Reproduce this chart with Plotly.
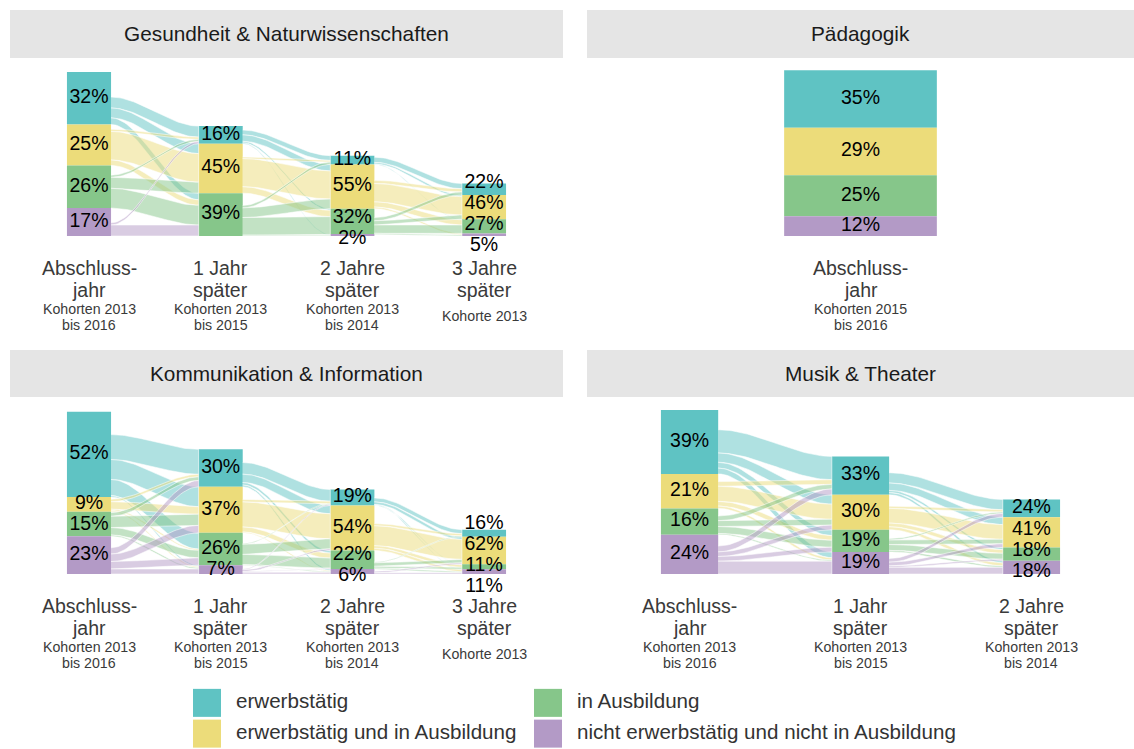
import plotly.graph_objects as go

W, H = 1134, 749
FONT = "Liberation Sans, Arial, sans-serif"

# ---------------- data ----------------
STATES = ["erwerbstätig", "erwerbstätig und in Ausbildung", "in Ausbildung",
          "nicht erwerbstätig und nicht in Ausbildung"]
COLORS = ["#5fc3c3", "#ecdc7a", "#86c68a", "#b39ac6"]
FLOW_COLORS = ["rgba(95,195,195,0.5)", "rgba(236,220,122,0.5)",
               "rgba(134,198,138,0.5)", "rgba(179,154,198,0.5)"]

STAGE_LABELS = [["Abschluss-", "jahr"], ["1 Jahr", "später"],
                ["2 Jahre", "später"], ["3 Jahre", "später"]]

# Gesundheit & Naturwissenschaften
GES_TITLE = "Gesundheit &amp; Naturwissenschaften"
GES_SIZE = [100, 67, 49, 32]          # relative group size per stage
GES_PCT = [[32, 25, 26, 17], [16, 45, 39, 0], [11, 55, 32, 2], [22, 46, 27, 5]]
GES_FLOWS = [  # rows = target state, cols = source state, in % of target stage
    [[10, 2, 2, 2], [9, 26, 10, 0], [6, 5, 18, 10], [0, 0, 0, 0]],
    [[6, 2, 3, 0], [8, 35, 12, 0], [2, 8, 22, 0], [1, 0, 1, 0]],
    [[10, 6, 6, 0], [3, 35, 8, 0], [1, 10, 16, 0], [0, 3, 2, 0]],
]
GES_COHORTS = [["Kohorten 2013", "bis 2016"], ["Kohorten 2013", "bis 2015"],
               ["Kohorten 2013", "bis 2014"], ["Kohorte 2013"]]

# Pädagogik
PAED_TITLE = "Pädagogik"
PAED_SIZE = [100]
PAED_PCT = [[35, 29, 25, 12]]
PAED_FLOWS = []
PAED_COHORTS = [["Kohorten 2015", "bis 2016"]]

# Kommunikation & Information
KOM_TITLE = "Kommunikation &amp; Information"
KOM_SIZE = [100, 76, 51, 27]
KOM_PCT = [[52, 9, 15, 23], [30, 37, 26, 7], [19, 54, 22, 6], [16, 62, 11, 11]]
KOM_FLOWS = [
    [[20, 2, 3, 5], [16, 6, 9, 6], [13, 1, 6, 6], [1, 1, 1, 4]],
    [[14, 3, 1, 1], [10, 30, 12, 2], [3, 6, 12, 1], [2, 1, 1, 2]],
    [[9, 5, 2, 0], [6, 45, 8, 3], [1, 6, 4, 0], [1, 5, 2, 3]],
]
KOM_COHORTS = [["Kohorten 2013", "bis 2016"], ["Kohorten 2013", "bis 2015"],
               ["Kohorten 2013", "bis 2014"], ["Kohorte 2013"]]

# Musik & Theater
MUS_TITLE = "Musik &amp; Theater"
MUS_SIZE = [100, 71, 45]
MUS_PCT = [[39, 21, 16, 24], [33, 30, 19, 19], [24, 41, 18, 18]]
MUS_FLOWS = [
    [[20, 4, 4, 5], [8, 13, 5, 4], [5, 4, 6, 4], [5, 2, 1, 11]],
    [[14, 3, 2, 5], [10, 20, 6, 5], [3, 5, 8, 2], [3, 4, 2, 9]],
]
MUS_COHORTS = [["Kohorten 2013", "bis 2016"], ["Kohorten 2013", "bis 2015"],
               ["Kohorten 2013", "bis 2014"]]

LEGEND_COL = [0, 0, 1, 1]
LEGEND_ROW = [0, 1, 0, 1]

# ---------------- layout geometry ----------------
PX_PER_UNIT = 1.64
panels = [
    dict(title=GES_TITLE, size=GES_SIZE, pct=GES_PCT, flows=GES_FLOWS, cohorts=GES_COHORTS,
         xpx=(10, 563), ypx=(58, 340), base=236, strip=(10, 58)),
    dict(title=PAED_TITLE, size=PAED_SIZE, pct=PAED_PCT, flows=PAED_FLOWS, cohorts=PAED_COHORTS,
         xpx=(587, 1134), ypx=(58, 340), base=236, strip=(10, 58)),
    dict(title=KOM_TITLE, size=KOM_SIZE, pct=KOM_PCT, flows=KOM_FLOWS, cohorts=KOM_COHORTS,
         xpx=(10, 563), ypx=(397, 680), base=574, strip=(350, 397)),
    dict(title=MUS_TITLE, size=MUS_SIZE, pct=MUS_PCT, flows=MUS_FLOWS, cohorts=MUS_COHORTS,
         xpx=(587, 1134), ypx=(397, 680), base=574, strip=(350, 397)),
]
NODE_W = 0.335
LABEL_GAP = 21 / PX_PER_UNIT


def smooth(t):
    return t * t * (3 - 2 * t)


def repel(vals, d):
    y = list(vals)
    order = sorted(range(len(y)), key=lambda i: -y[i])
    for _ in range(500):
        moved = False
        for a, b in zip(order, order[1:]):
            gap = y[a] - y[b]
            if gap < d - 1e-6:
                s = (d - gap) / 2
                y[a] += s
                y[b] -= s
                moved = True
        if not moved:
            break
    return y


def node_geom(size, pct):
    h = [size * p / 100 for p in pct]
    bottoms = [0] * 4
    acc = 0
    for i in range(3, -1, -1):
        bottoms[i] = acc
        acc += h[i]
    return h, bottoms


fig = go.Figure()
layout = dict(width=W, height=H, margin=dict(l=0, r=0, t=0, b=0),
              paper_bgcolor="white", plot_bgcolor="white", showlegend=False,
              barmode="overlay", shapes=[], annotations=[])

NPTS = 40
for pi, p in enumerate(panels):
    s = "" if pi == 0 else str(pi + 1)
    xa, ya = "x" + s, "y" + s
    ncol = len(p["size"])
    geoms = [node_geom(p["size"][k], p["pct"][k]) for k in range(ncol)]

    # flows
    for k, F in enumerate(p["flows"]):
        h0, b0 = geoms[k]
        h1, b1 = geoms[k + 1]
        v = [[p["size"][k + 1] * F[j][i] / 100 for i in range(4)] for j in range(4)]
        src_cursor = [b0[i] + sum(v[j][i] for j in range(4)) for i in range(4)]
        tgt_cursor = [b1[j] + h1[j] for j in range(4)]
        src_pos = {}
        for i in range(4):
            for j in range(4):
                src_pos[(i, j)] = (src_cursor[i], src_cursor[i] - v[j][i])
                src_cursor[i] -= v[j][i]
        tgt_pos = {}
        for j in range(4):
            for i in range(4):
                tgt_pos[(i, j)] = (tgt_cursor[j], tgt_cursor[j] - v[j][i])
                tgt_cursor[j] -= v[j][i]
        x0 = k + 1 + NODE_W / 2
        x1 = k + 2 - NODE_W / 2
        for i in range(4):
            for j in range(4):
                if v[j][i] <= 0:
                    continue
                (st, sb), (tt, tb) = src_pos[(i, j)], tgt_pos[(i, j)]
                ts = [n / (NPTS - 1) for n in range(NPTS)]
                xs = [x0 + (x1 - x0) * t for t in ts]
                top = [st + (tt - st) * smooth(t) for t in ts]
                bot = [sb + (tb - sb) * smooth(t) for t in ts]
                fig.add_trace(go.Scatter(
                    x=xs + xs[::-1], y=top + bot[::-1], mode="lines", fill="toself",
                    fillcolor=FLOW_COLORS[i], line=dict(color="rgba(255,255,255,0.9)", width=0.6),
                    hoverinfo="skip", xaxis=xa, yaxis=ya))

    # nodes
    for i in range(4):
        xs, ys, bs = [], [], []
        for k in range(ncol):
            h, b = geoms[k]
            if h[i] > 0:
                xs.append(k + 1)
                ys.append(h[i])
                bs.append(b[i])
        fig.add_trace(go.Bar(x=xs, y=ys, base=bs, width=NODE_W, marker=dict(color=COLORS[i], line=dict(width=0)),
                             name=STATES[i], hoverinfo="skip", xaxis=xa, yaxis=ya))

    # percentage labels
    for k in range(ncol):
        h, b = geoms[k]
        idx = [i for i in range(4) if p["pct"][k][i] > 0]
        centers = [b[i] + h[i] / 2 for i in idx]
        ypos = repel(centers, LABEL_GAP)
        fig.add_trace(go.Scatter(
            x=[k + 1] * len(idx), y=ypos, mode="text",
            text=[f"{p['pct'][k][i]}%" for i in idx], textposition="middle center",
            textfont=dict(family=FONT, size=19.5, color="black"), cliponaxis=False,
            hoverinfo="skip", xaxis=xa, yaxis=ya))

    # stage labels
    for k in range(ncol):
        for line, yv in zip(STAGE_LABELS[k], [-19.6, -33.0]):
            layout["annotations"].append(dict(
                x=k + 1, y=yv, xref=xa, yref=ya, text=line, showarrow=False,
                font=dict(family=FONT, size=19.5, color="#3a3a3a"), xanchor="center", yanchor="middle"))
        coh = p["cohorts"][k]
        ylist = [-44.6, -54.5] if len(coh) == 2 else [-49.0]
        for line, yv in zip(coh, ylist):
            layout["annotations"].append(dict(
                x=k + 1, y=yv, xref=xa, yref=ya, text=line, showarrow=False,
                font=dict(family=FONT, size=14.2, color="#3a3a3a"), xanchor="center", yanchor="middle"))

    # axes
    ytop, ybot = p["ypx"]
    yr = [-(ybot - p["base"]) / PX_PER_UNIT, (p["base"] - ytop) / PX_PER_UNIT]
    layout["xaxis" + s] = dict(domain=[p["xpx"][0] / W, p["xpx"][1] / W], range=[0.4, ncol + 0.6],
                               visible=False, anchor=ya, fixedrange=True)
    layout["yaxis" + s] = dict(domain=[1 - ybot / H, 1 - ytop / H], range=yr,
                               visible=False, anchor=xa, fixedrange=True)

    # strip
    st0, st1 = p["strip"]
    layout["shapes"].append(dict(type="rect", xref=xa + " domain", yref="paper",
                                 x0=0, x1=1, y0=1 - st1 / H, y1=1 - st0 / H,
                                 fillcolor="#e5e5e5", line=dict(width=0), layer="below"))
    layout["annotations"].append(dict(x=0.5, y=1 - (st0 + st1) / 2 / H, xref=xa + " domain", yref="paper",
                                      text=p["title"], showarrow=False, xanchor="center", yanchor="middle",
                                      font=dict(family=FONT, size=20.8, color="#1a1a1a")))

# legend on its own hidden axis
fig.add_trace(go.Scatter(
    x=LEGEND_COL, y=LEGEND_ROW, mode="markers",
    marker=dict(symbol="square", size=28, color=COLORS, line=dict(width=0)),
    hoverinfo="skip", xaxis="x5", yaxis="y5", cliponaxis=False))
fig.add_trace(go.Scatter(
    x=[c + 0.085 for c in LEGEND_COL], y=LEGEND_ROW, mode="text", text=STATES,
    textposition="middle right", textfont=dict(family=FONT, size=20.6, color="#333333"),
    hoverinfo="skip", xaxis="x5", yaxis="y5", cliponaxis=False))
layout["xaxis5"] = dict(domain=[36.5 / W, 718.5 / W], range=[-0.5, 1.5], visible=False,
                        anchor="y5", fixedrange=True)
layout["yaxis5"] = dict(domain=[0, 1 - 687.5 / H], range=[1.5, -0.5], visible=False,
                        anchor="x5", fixedrange=True)

fig.update_layout(**layout)
fig.write_html("out.html", config={"displayModeBar": False},
               post_script="document.body.style.margin='0';document.body.style.overflow='hidden';")
